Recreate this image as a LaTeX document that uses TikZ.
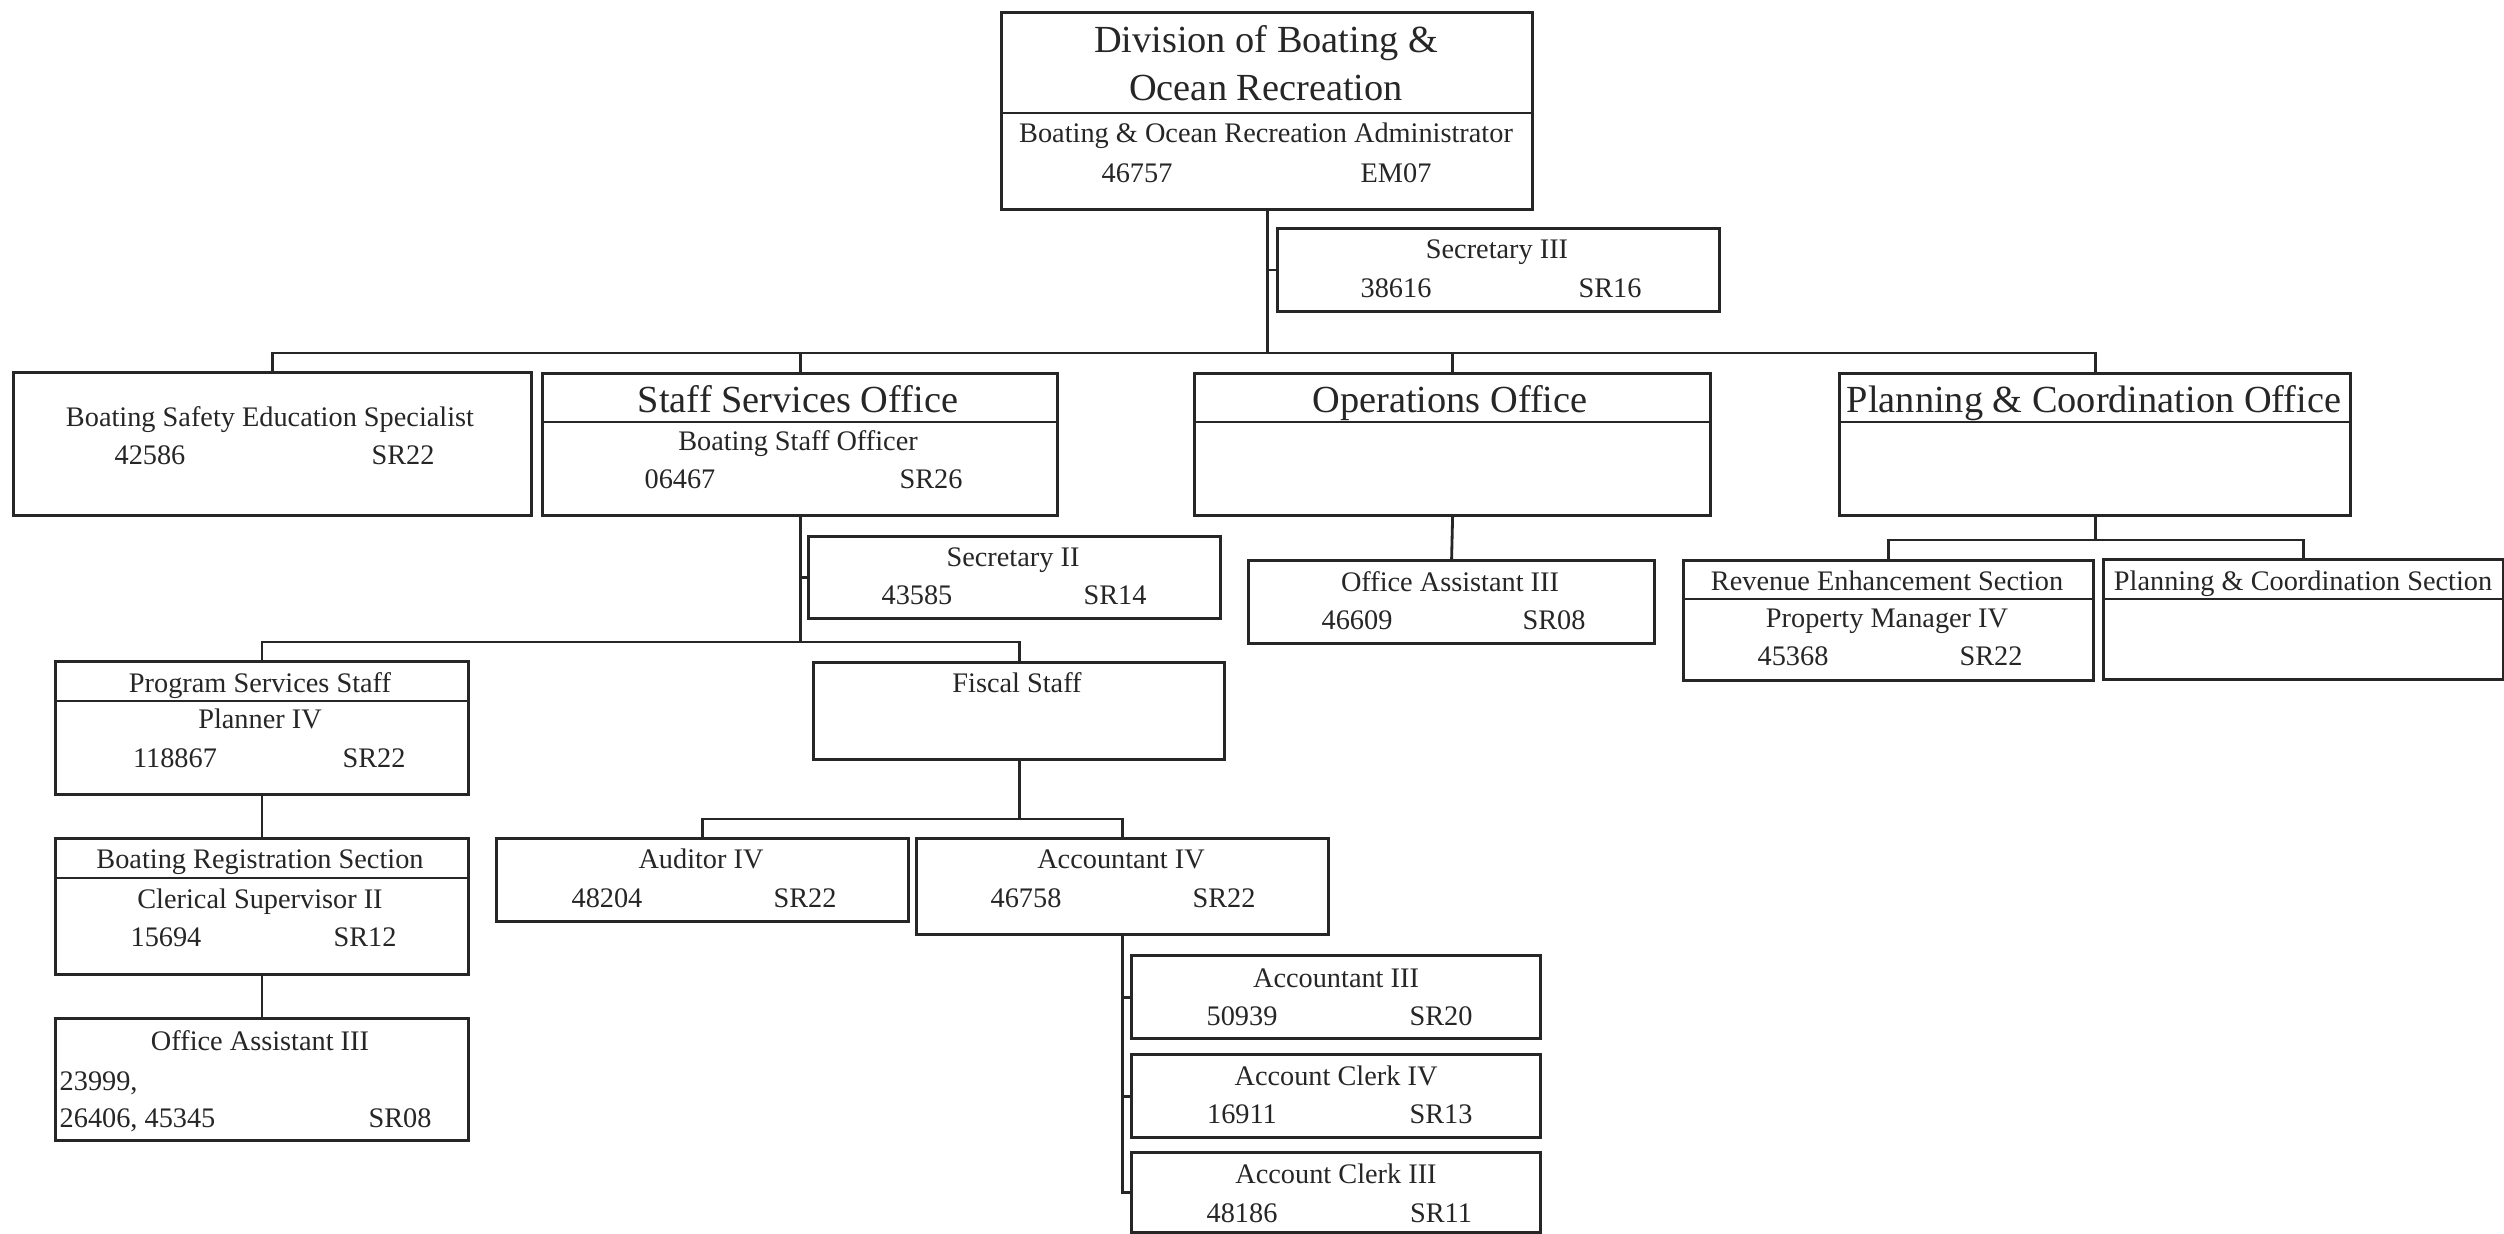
\documentclass[tikz,border=0pt]{standalone}
\usepackage{fontspec}
\setmainfont{Liberation Serif}
\usepackage{tikz}
\usetikzlibrary{positioning,calc}
\definecolor{inkgray}{gray}{0.15}
\tikzset{
  unitbox/.style={draw=inkgray,line width=0.9pt,anchor=north west,inner sep=0pt},
  divline/.style={inkgray,line width=0.65pt},
  link/.style={inkgray,line width=0.8pt},
  lbl/.style={text=inkgray,font=\fontsize{8.05}{9.6}\selectfont,inner sep=0pt,anchor=base},
  hd/.style={lbl,font=\fontsize{10.9}{13}\selectfont},
}
\begin{document}
\begin{tikzpicture}[x=0.01cm,y=-0.01cm]
        \fill[white] (0,0) rectangle (2504,1233);
        \useasboundingbox (0,0) rectangle (2504,1233);
        % --- kastjes: naam / links / boven / rechts / onder ---
        \foreach \nm/\xa/\ya/\xb/\yb in {div/1000/11/1531/208, sec3/1276/227/1718/310,
            bses/12/371/530/514, sso/541/372/1056/514, ops/1193/372/1709/514, plan/1838/372/2349/514,
            sec2/807/535/1219/617, oa2/1247/559/1653/642, rev/1682/559/2092/679, pcs/2102/558/2502/678,
            pss/54/660/467/793, fis/812/661/1223/758, brs/54/837/467/973, aud/495/837/907/920,
            acc4/915/837/1327/933, oa1/54/1017/467/1139, acc3/1130/954/1539/1037,
            clk4/1130/1053/1539/1136, clk3/1130/1151/1539/1231}{
          \node[unitbox,minimum width={(\xb-\xa)*0.01cm},minimum height={(\yb-\ya)*0.01cm}] (\nm) at (\xa,\ya) {};
        }
        % scheidingslijnen onder de kop
        \foreach \nm/\yy in {div/113, sso/422, ops/422, plan/422, rev/599, pcs/599, pss/701, brs/878}{
          \draw[divline] (\nm.west |- 0,\yy) -- (\nm.east |- 0,\yy);
        }
        % koppen
        \foreach \xx/\yy/\tx [count=\i] in {1266/52/Division of Boating \&, 1266/100/Ocean Recreation,
            798/412/Staff Services Office, 1450/412/Operations Office, 2094/412/Planning \& Coordination Office}{
          \node[hd] (hd\i) at (\xx,\yy) {\tx};
        }
        % functies en nummers
        \foreach \xx/\yy/\tx [count=\i] in {1266/142/Boating \& Ocean Recreation Administrator, 1137/182/46757, 1396/182/EM07,
            1497/258/Secretary III, 1396/297/38616, 1610/297/SR16,
            270/426/Boating Safety Education Specialist, 150/464/42586, 403/464/SR22,
            798/450/Boating Staff Officer, 680/488/06467, 931/488/SR26,
            1013/566/Secretary II, 917/604/43585, 1115/604/SR14,
            1450/591/Office Assistant III, 1357/629/46609, 1554/629/SR08,
            1887/590/Revenue Enhancement Section, 1887/627/Property Manager IV, 1793/665/45368, 1991/665/SR22,
            2303/590/Planning \& Coordination Section,
            260/692/Program Services Staff, 260/728/Planner IV, 175/767/118867, 374/767/SR22,
            1017/692/Fiscal Staff,
            260/868/Boating Registration Section, 260/908/Clerical Supervisor II, 166/946/15694, 365/946/SR12,
            701/868/Auditor IV, 607/907/48204, 805/907/SR22,
            1121/868/Accountant IV, 1026/907/46758, 1224/907/SR22,
            260/1050/Office Assistant III, 400/1127/SR08,
            1336/987/Accountant III, 1242/1025/50939, 1441/1025/SR20,
            1336/1085/Account Clerk IV, 1242/1123/16911, 1441/1123/SR13,
            1336/1183/Account Clerk III, 1242/1222/48186, 1441/1222/SR11}{
          \node[lbl] (lb\i) at (\xx,\yy) {\tx};
        }
        \node[lbl,anchor=base west] (oa1n1) at (59,1090) {23999,};
        \node[lbl,anchor=base west] (oa1n2) at (59,1127) {26406, 45345};
        % --- verbindingen ---
        \coordinate (bus) at (div.south |- 0,353);
        \draw[link] (div.south) -- (bus);
        \draw[link] (bses.north) |- (bus) -| (plan.north);
        \draw[link] (sso.north) -- (sso.north |- bus);
        \draw[link] (ops.north) -- (ops.north |- bus);
        \draw[link] (sec3.west) -- (sec3.west -| div.south);
        % staff services
        \coordinate (ssobus) at (sso.south |- 0,642);
        \draw[link] (sso.south) -- (ssobus);
        \draw[link] (sec2.west) -- (sec2.west -| sso.south);
        \draw[link] (pss.north) |- (ssobus) -| (fis.north);
        \draw[link] (pss.south) -- (brs.north);
        \draw[link] (brs.south) -- (oa1.north);
        \coordinate (fisbus) at (fis.south |- 0,819);
        \draw[link] (fis.south) -- (fisbus);
        \draw[link] (aud.north) |- (fisbus) -| (acc4.north);
        \draw[link] (acc4.south) -- (acc4.south |- clk3.west) -- (clk3.west);
        \draw[link] (acc3.west) -- (acc3.west -| acc4.south);
        \draw[link] (clk4.west) -- (clk4.west -| acc4.south);
        % operations en planning
        \draw[link] (ops.south) -- (oa2.north);
        \coordinate (planbus) at (plan.south |- 0,540);
        \draw[link] (plan.south) -- (planbus);
        \draw[link] (rev.north) |- (planbus) -| (pcs.north);
      \end{tikzpicture}
\end{document}
